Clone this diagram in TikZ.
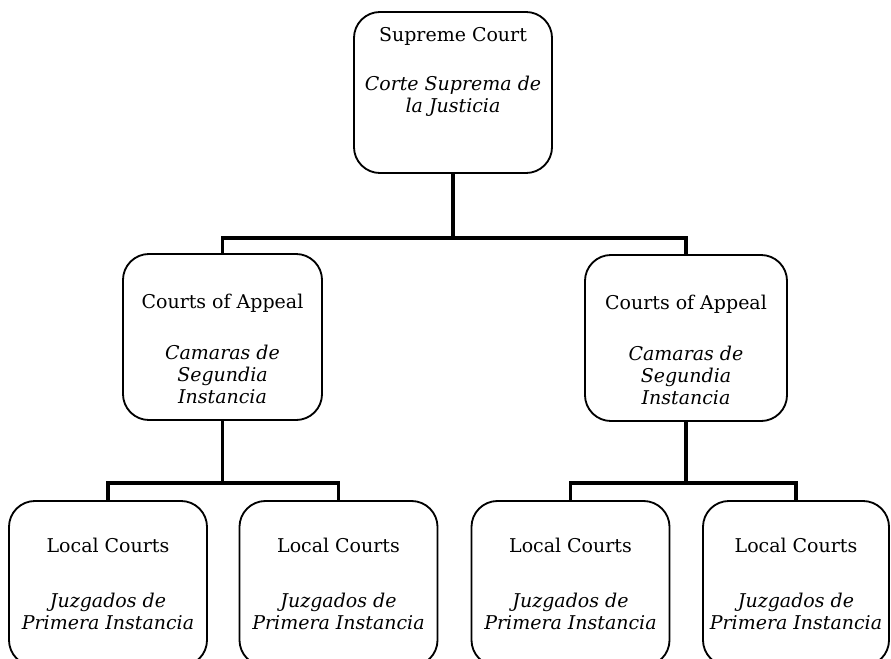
\documentclass[tikz,border=0pt]{standalone}
\usepackage{fontspec}
\setmainfont{DejaVu Serif}
\usetikzlibrary{positioning}
\tikzset{
  every picture/.style={font={\fontsize{13.5}{15.5}\selectfont}}}

\begin{document}
\begin{tikzpicture}[x=0.025cm, y=-0.025cm,
    court/.style={
      draw, line width=1.3pt,
      rounded corners=0.65cm,
      inner sep=0pt, outer sep=0pt},
    local/.style={court,
      minimum width=4.95cm,
      minimum height=4.125cm},
    txt/.style={align=center, inner sep=0pt},
    link/.style={line width=2.8pt}]

    \useasboundingbox (0,0) rectangle (891,658);
    \clip (0,0) rectangle (891,658);

    \node[court, minimum width=4.95cm, minimum height=4.025cm] (sc) at (453,92.5) {};
    \node[txt, below=0.38cm of sc.north] (sc-text)
    {Supreme Court\\[0.68cm]
      \textit{Corte Suprema de}\\
      \textit{la Justicia}};

    \node[court, minimum width=4.975cm, minimum height=4.15cm] (ca1) at (222.5,337) {};
    \node[txt, below=1cm of ca1.north] (ca1-text)
    {Courts of Appeal\\[0.73cm]
      \textit{Camaras de}\\
      \textit{Segundia}\\
      \textit{Instancia}};

    \node[court, minimum width=5.05cm, minimum height=4.15cm] (ca2) at (686,338) {};
    \node[txt, below=1cm of ca2.north] (ca2-text)
    {Courts of Appeal\\[0.73cm]
      \textit{Camaras de}\\
      \textit{Segundia}\\
      \textit{Instancia}};

    \node[local] (lc1) at (108,583.5) {};
    \node[local] (lc2) at (338.5,583.5) {};
    \node[local] (lc3) at (570.5,583.5) {};
    \node[local, minimum width=4.65cm] (lc4) at (796,583.5) {};

    \foreach \lc in {lc1, lc2, lc3, lc4}
      \node[txt, below=0.93cm of \lc.north] (\lc-text)
      {Local Courts\\[0.83cm]
        \textit{Juzgados de}\\
        \textit{Primera Instancia}};

    \coordinate (top-bar) at (453,238);
    \coordinate (left-bar) at (222.5,483);
    \coordinate (right-bar) at (686,483);

    \draw[link] (sc.south) -- (top-bar);
    \draw[link] (ca1.north) |- (top-bar) -| (ca2.north);
    \draw[link] (ca1.south) -- (left-bar);
    \draw[link] (lc1.north) |- (left-bar) -| (lc2.north);
    \draw[link] (ca2.south) -- (right-bar);
    \draw[link] (lc3.north) |- (right-bar) -| (lc4.north);
  \end{tikzpicture}
\end{document}
